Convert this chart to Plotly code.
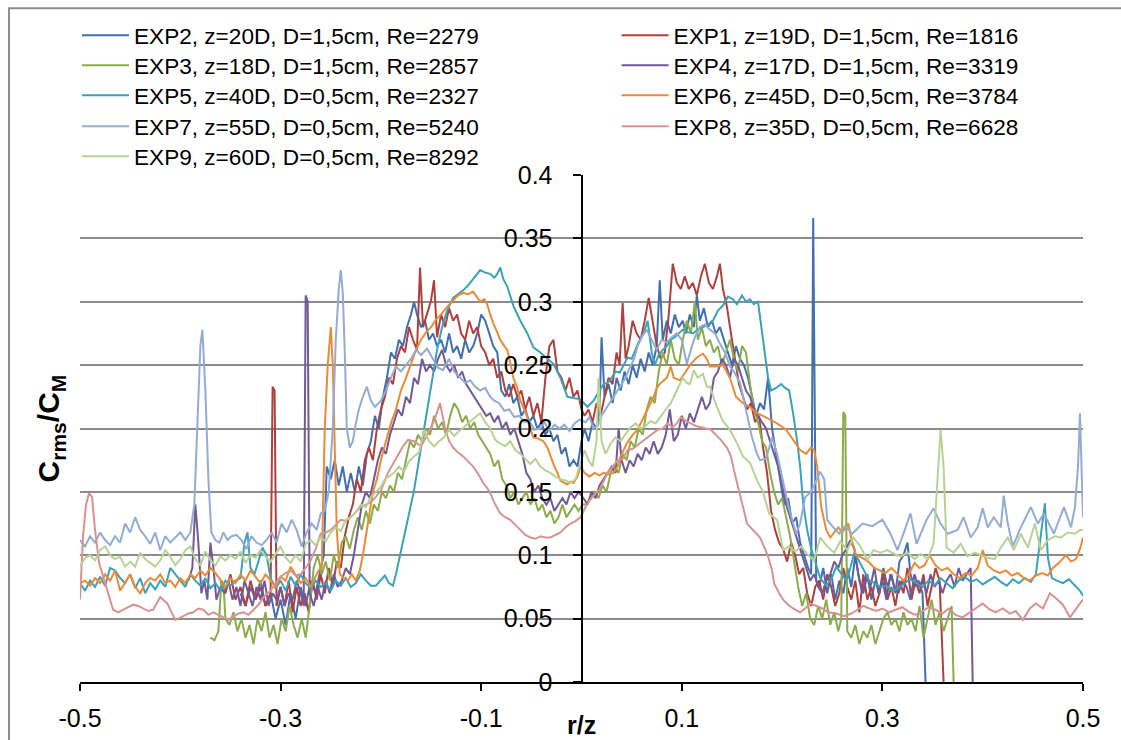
import plotly.graph_objects as go

# ---------------- data (r/z, Crms/CM) ----------------
exp2_r = [-0.340,-0.335,-0.330,-0.325,-0.320,-0.315,-0.310,-0.305,-0.300,-0.295,
          -0.290,-0.285,-0.280,-0.275,-0.270,-0.265,-0.260,-0.257,-0.254,-0.250,
          -0.246,-0.242,-0.238,-0.234,-0.230,-0.226,-0.222,-0.218,-0.214,-0.210,
          -0.206,-0.202,-0.198,-0.194,-0.190,-0.186,-0.182,-0.178,-0.174,-0.170,
          -0.167,-0.164,-0.160,-0.156,-0.152,-0.148,-0.144,-0.140,-0.136,-0.132,
          -0.128,-0.124,-0.120,-0.116,-0.112,-0.108,-0.104,-0.100,-0.096,-0.092,
          -0.088,-0.084,-0.080,-0.076,-0.072,-0.068,-0.064,-0.060,-0.056,-0.052,
          -0.048,-0.044,-0.040,-0.036,-0.032,-0.028,-0.024,-0.020,-0.016,-0.012,
          -0.008,-0.004,0.000,0.003,0.007,0.011,0.015,0.018,0.020,0.023,
          0.027,0.031,0.035,0.039,0.043,0.047,0.051,0.055,0.059,0.063,
          0.067,0.071,0.075,0.078,0.081,0.085,0.089,0.093,0.097,0.101,
          0.104,0.108,0.112,0.115,0.118,0.122,0.126,0.130,0.134,0.138,
          0.142,0.146,0.150,0.154,0.158,0.162,0.166,0.170,0.174,0.178,
          0.182,0.186,0.190,0.194,0.198,0.202,0.206,0.210,0.214,0.218,
          0.222,0.226,0.229,0.231,0.234,0.237,0.241,0.245,0.249,0.253,
          0.257,0.261,0.265,0.269,0.273,0.277,0.281,0.285,0.289,0.293,
          0.297,0.301,0.305,0.309,0.313,0.317,0.321,0.325,0.328,0.332,
          0.336,0.340,0.343]
exp2_c = [0.070,0.060,0.075,0.065,0.080,0.060,0.070,0.050,0.065,0.045,
          0.070,0.050,0.075,0.060,0.080,0.070,0.090,0.100,0.170,0.160,
          0.175,0.155,0.170,0.150,0.165,0.150,0.170,0.155,0.180,0.190,
          0.210,0.200,0.225,0.240,0.260,0.255,0.270,0.265,0.280,0.290,
          0.300,0.290,0.280,0.285,0.270,0.275,0.265,0.270,0.260,0.275,
          0.260,0.265,0.255,0.270,0.260,0.265,0.275,0.290,0.285,0.275,
          0.265,0.260,0.230,0.225,0.235,0.220,0.225,0.210,0.215,0.205,
          0.210,0.200,0.205,0.195,0.200,0.190,0.195,0.180,0.185,0.170,
          0.175,0.170,0.190,0.200,0.190,0.205,0.200,0.215,0.272,0.225,
          0.235,0.220,0.240,0.230,0.245,0.235,0.250,0.240,0.255,0.245,
          0.260,0.250,0.265,0.317,0.270,0.285,0.275,0.290,0.280,0.285,
          0.275,0.290,0.280,0.305,0.285,0.295,0.280,0.285,0.275,0.280,
          0.270,0.260,0.250,0.265,0.255,0.250,0.240,0.225,0.210,0.220,
          0.215,0.240,0.200,0.180,0.160,0.140,0.145,0.125,0.130,0.110,
          0.100,0.090,0.085,0.366,0.080,0.075,0.090,0.070,0.085,0.065,
          0.080,0.070,0.090,0.075,0.100,0.080,0.070,0.085,0.065,0.080,
          0.070,0.090,0.075,0.085,0.070,0.095,0.100,0.110,0.085,0.075,
          0.080,0.070,0.000]

exp1_r = [-0.360,-0.355,-0.350,-0.345,-0.340,-0.335,-0.330,-0.325,-0.320,-0.315,
          -0.310,-0.308,-0.306,-0.304,-0.300,-0.296,-0.292,-0.288,-0.284,-0.280,
          -0.276,-0.272,-0.268,-0.264,-0.260,-0.256,-0.252,-0.248,-0.244,-0.240,
          -0.236,-0.232,-0.228,-0.224,-0.220,-0.216,-0.212,-0.208,-0.204,-0.200,
          -0.196,-0.192,-0.188,-0.184,-0.180,-0.176,-0.172,-0.168,-0.164,-0.161,
          -0.158,-0.154,-0.150,-0.147,-0.144,-0.140,-0.136,-0.132,-0.128,-0.124,
          -0.120,-0.116,-0.112,-0.108,-0.104,-0.100,-0.096,-0.092,-0.088,-0.084,
          -0.080,-0.076,-0.072,-0.068,-0.064,-0.060,-0.056,-0.052,-0.048,-0.044,
          -0.040,-0.036,-0.032,-0.028,-0.024,-0.020,-0.016,-0.012,-0.008,-0.004,
          0.000,0.003,0.007,0.011,0.015,0.019,0.023,0.027,0.031,0.035,
          0.038,0.041,0.044,0.047,0.051,0.055,0.059,0.063,0.067,0.071,
          0.075,0.079,0.083,0.087,0.091,0.095,0.099,0.103,0.107,0.111,
          0.115,0.119,0.123,0.127,0.131,0.135,0.138,0.141,0.145,0.149,
          0.153,0.157,0.161,0.165,0.169,0.173,0.177,0.181,0.185,0.189,
          0.193,0.197,0.201,0.205,0.209,0.213,0.217,0.221,0.225,0.229,
          0.233,0.237,0.241,0.245,0.249,0.253,0.257,0.261,0.265,0.269,
          0.273,0.277,0.281,0.285,0.289,0.293,0.297,0.301,0.305,0.309,
          0.313,0.317,0.321,0.325,0.329,0.333,0.337,0.341,0.345,0.349,
          0.353,0.357,0.361]
exp1_c = [0.080,0.070,0.085,0.065,0.075,0.060,0.080,0.065,0.075,0.060,
          0.070,0.233,0.230,0.060,0.075,0.060,0.080,0.055,0.075,0.060,
          0.070,0.055,0.080,0.065,0.085,0.070,0.090,0.075,0.095,0.090,
          0.115,0.130,0.140,0.160,0.150,0.175,0.185,0.175,0.200,0.215,
          0.225,0.240,0.235,0.255,0.265,0.260,0.280,0.270,0.262,0.327,
          0.280,0.290,0.301,0.317,0.272,0.290,0.280,0.295,0.285,0.290,
          0.275,0.270,0.285,0.275,0.280,0.265,0.260,0.250,0.255,0.240,
          0.245,0.230,0.225,0.235,0.225,0.230,0.215,0.225,0.210,0.220,
          0.205,0.240,0.265,0.270,0.245,0.240,0.230,0.240,0.225,0.230,
          0.215,0.210,0.215,0.205,0.220,0.210,0.225,0.240,0.235,0.260,
          0.250,0.299,0.255,0.265,0.285,0.275,0.270,0.285,0.303,0.285,
          0.265,0.255,0.260,0.290,0.330,0.315,0.310,0.320,0.310,0.315,
          0.305,0.320,0.330,0.315,0.310,0.320,0.330,0.310,0.296,0.275,
          0.255,0.235,0.225,0.215,0.220,0.205,0.210,0.185,0.165,0.135,
          0.120,0.110,0.105,0.095,0.110,0.100,0.085,0.090,0.070,0.060,
          0.075,0.080,0.065,0.085,0.075,0.060,0.070,0.090,0.075,0.065,
          0.080,0.055,0.085,0.065,0.075,0.060,0.070,0.085,0.065,0.075,
          0.060,0.080,0.070,0.090,0.065,0.080,0.070,0.085,0.060,0.075,
          0.090,0.080,0.000]

exp3_r = [-0.370,-0.366,-0.362,-0.359,-0.357,-0.355,-0.351,-0.347,-0.343,-0.339,
          -0.335,-0.331,-0.327,-0.323,-0.319,-0.315,-0.311,-0.307,-0.303,-0.299,
          -0.295,-0.291,-0.287,-0.283,-0.279,-0.275,-0.271,-0.267,-0.263,-0.259,
          -0.255,-0.251,-0.247,-0.243,-0.239,-0.235,-0.231,-0.227,-0.223,-0.219,
          -0.215,-0.211,-0.207,-0.203,-0.199,-0.195,-0.191,-0.187,-0.183,-0.179,
          -0.175,-0.171,-0.167,-0.163,-0.159,-0.155,-0.151,-0.147,-0.143,-0.139,
          -0.135,-0.131,-0.127,-0.123,-0.119,-0.115,-0.111,-0.107,-0.103,-0.099,
          -0.095,-0.091,-0.087,-0.083,-0.079,-0.075,-0.071,-0.067,-0.063,-0.059,
          -0.055,-0.051,-0.047,-0.043,-0.039,-0.035,-0.031,-0.027,-0.023,-0.019,
          -0.015,-0.011,-0.007,-0.003,0.001,0.005,0.009,0.013,0.017,0.021,
          0.025,0.029,0.033,0.037,0.041,0.045,0.049,0.053,0.057,0.061,
          0.065,0.069,0.073,0.077,0.081,0.085,0.089,0.093,0.097,0.101,
          0.105,0.109,0.113,0.116,0.120,0.124,0.128,0.132,0.136,0.140,
          0.144,0.148,0.152,0.156,0.160,0.164,0.168,0.172,0.176,0.180,
          0.184,0.188,0.192,0.196,0.200,0.204,0.208,0.212,0.216,0.220,
          0.224,0.228,0.232,0.236,0.240,0.244,0.248,0.252,0.256,0.259,
          0.261,0.263,0.265,0.269,0.273,0.277,0.281,0.285,0.289,0.293,
          0.297,0.301,0.305,0.309,0.313,0.317,0.321,0.325,0.329,0.333,
          0.337,0.341,0.345,0.349,0.353,0.357,0.361,0.365,0.369,0.371]
exp3_c = [0.035,0.033,0.040,0.080,0.078,0.050,0.045,0.055,0.040,0.050,
          0.035,0.045,0.030,0.050,0.040,0.055,0.035,0.045,0.030,0.050,
          0.040,0.060,0.045,0.035,0.050,0.035,0.060,0.090,0.100,0.085,
          0.095,0.080,0.100,0.090,0.110,0.115,0.105,0.120,0.130,0.120,
          0.135,0.125,0.140,0.135,0.150,0.145,0.155,0.150,0.165,0.160,
          0.175,0.190,0.185,0.195,0.190,0.200,0.195,0.210,0.200,0.205,
          0.195,0.210,0.220,0.215,0.205,0.210,0.200,0.205,0.195,0.190,
          0.185,0.180,0.170,0.175,0.160,0.155,0.145,0.150,0.140,0.145,
          0.150,0.140,0.145,0.135,0.140,0.130,0.135,0.125,0.130,0.140,
          0.130,0.135,0.140,0.135,0.140,0.140,0.145,0.150,0.145,0.155,
          0.150,0.165,0.170,0.165,0.180,0.175,0.190,0.185,0.200,0.195,
          0.215,0.225,0.220,0.245,0.260,0.250,0.270,0.255,0.250,0.270,
          0.285,0.275,0.300,0.270,0.280,0.265,0.270,0.260,0.265,0.250,
          0.260,0.270,0.255,0.245,0.265,0.260,0.235,0.215,0.205,0.190,
          0.185,0.165,0.150,0.140,0.145,0.130,0.115,0.095,0.075,0.060,
          0.070,0.050,0.045,0.060,0.050,0.065,0.045,0.055,0.040,0.050,
          0.213,0.210,0.040,0.035,0.045,0.030,0.040,0.035,0.045,0.030,
          0.040,0.050,0.055,0.045,0.050,0.040,0.055,0.045,0.050,0.040,
          0.060,0.035,0.050,0.065,0.045,0.055,0.040,0.050,0.060,0.000]

exp4_r = [-0.392,-0.388,-0.385,-0.382,-0.379,-0.376,-0.373,-0.370,-0.367,-0.364,
          -0.360,-0.356,-0.352,-0.348,-0.344,-0.340,-0.336,-0.332,-0.328,-0.324,
          -0.320,-0.316,-0.312,-0.308,-0.304,-0.300,-0.296,-0.292,-0.288,-0.284,
          -0.280,-0.277,-0.275,-0.273,-0.271,-0.267,-0.263,-0.259,-0.255,-0.251,
          -0.247,-0.243,-0.239,-0.235,-0.231,-0.227,-0.223,-0.219,-0.215,-0.211,
          -0.207,-0.203,-0.199,-0.195,-0.191,-0.187,-0.183,-0.179,-0.175,-0.171,
          -0.167,-0.163,-0.159,-0.155,-0.151,-0.147,-0.143,-0.139,-0.135,-0.131,
          -0.127,-0.123,-0.119,-0.115,-0.111,-0.107,-0.103,-0.099,-0.095,-0.091,
          -0.087,-0.083,-0.079,-0.075,-0.071,-0.067,-0.063,-0.059,-0.055,-0.051,
          -0.047,-0.043,-0.039,-0.035,-0.031,-0.027,-0.023,-0.019,-0.015,-0.011,
          -0.007,-0.003,0.002,0.006,0.010,0.014,0.018,0.022,0.026,0.030,
          0.034,0.037,0.040,0.044,0.048,0.052,0.056,0.060,0.064,0.068,
          0.072,0.076,0.080,0.084,0.088,0.092,0.096,0.100,0.104,0.108,
          0.112,0.116,0.120,0.124,0.128,0.132,0.136,0.140,0.144,0.148,
          0.152,0.156,0.160,0.164,0.168,0.172,0.176,0.180,0.184,0.188,
          0.192,0.196,0.200,0.204,0.208,0.212,0.216,0.220,0.224,0.228,
          0.232,0.236,0.240,0.244,0.248,0.252,0.256,0.260,0.264,0.268,
          0.272,0.276,0.280,0.284,0.288,0.292,0.296,0.300,0.304,0.308,
          0.312,0.316,0.320,0.324,0.328,0.332,0.336,0.340,0.344,0.348,
          0.352,0.356,0.360,0.364,0.368,0.372,0.376,0.380,0.384,0.388,
          0.390]
exp4_c = [0.080,0.090,0.140,0.110,0.070,0.080,0.065,0.110,0.090,0.065,
          0.075,0.070,0.080,0.065,0.075,0.060,0.080,0.070,0.060,0.075,
          0.065,0.080,0.060,0.070,0.065,0.075,0.060,0.070,0.065,0.080,
          0.070,0.060,0.305,0.300,0.070,0.060,0.075,0.065,0.080,0.070,
          0.085,0.075,0.080,0.090,0.085,0.100,0.120,0.140,0.150,0.145,
          0.160,0.175,0.185,0.180,0.195,0.205,0.215,0.210,0.225,0.220,
          0.240,0.235,0.255,0.245,0.250,0.245,0.255,0.262,0.250,0.245,
          0.250,0.240,0.245,0.235,0.230,0.225,0.220,0.215,0.210,0.212,
          0.205,0.210,0.200,0.205,0.195,0.200,0.190,0.180,0.165,0.160,
          0.150,0.155,0.145,0.140,0.145,0.135,0.140,0.145,0.140,0.150,
          0.145,0.150,0.145,0.140,0.150,0.145,0.155,0.160,0.165,0.170,
          0.165,0.200,0.175,0.165,0.175,0.170,0.180,0.175,0.185,0.180,
          0.190,0.180,0.185,0.195,0.215,0.190,0.195,0.210,0.200,0.212,
          0.205,0.215,0.225,0.215,0.220,0.240,0.245,0.255,0.250,0.240,
          0.255,0.250,0.240,0.230,0.225,0.215,0.210,0.205,0.200,0.190,
          0.180,0.170,0.155,0.140,0.130,0.120,0.110,0.100,0.090,0.080,
          0.085,0.075,0.070,0.080,0.085,0.095,0.090,0.100,0.105,0.112,
          0.105,0.085,0.070,0.085,0.075,0.090,0.070,0.080,0.065,0.085,
          0.075,0.070,0.080,0.075,0.065,0.085,0.075,0.080,0.070,0.085,
          0.075,0.080,0.070,0.080,0.085,0.075,0.090,0.080,0.085,0.090,
          0.000]

exp5_r = [-0.500,-0.495,-0.490,-0.485,-0.480,-0.475,-0.470,-0.465,-0.460,-0.455,
          -0.450,-0.445,-0.440,-0.435,-0.430,-0.425,-0.420,-0.415,-0.410,-0.405,
          -0.400,-0.395,-0.390,-0.385,-0.380,-0.375,-0.370,-0.365,-0.360,-0.355,
          -0.350,-0.345,-0.340,-0.336,-0.333,-0.330,-0.326,-0.322,-0.318,-0.314,
          -0.310,-0.305,-0.300,-0.295,-0.290,-0.285,-0.280,-0.275,-0.270,-0.265,
          -0.260,-0.255,-0.250,-0.245,-0.240,-0.235,-0.230,-0.225,-0.220,-0.215,
          -0.210,-0.205,-0.200,-0.196,-0.192,-0.188,-0.185,-0.180,-0.174,-0.167,
          -0.160,-0.154,-0.149,-0.144,-0.139,-0.134,-0.128,-0.123,-0.118,-0.113,
          -0.108,-0.104,-0.101,-0.096,-0.091,-0.087,-0.084,-0.081,-0.078,-0.074,
          -0.068,-0.061,-0.054,-0.048,-0.041,-0.034,-0.028,-0.021,-0.014,-0.008,
          -0.001,0.006,0.012,0.018,0.022,0.026,0.030,0.034,0.038,0.042,
          0.046,0.050,0.054,0.058,0.062,0.066,0.070,0.073,0.077,0.081,
          0.085,0.089,0.093,0.097,0.101,0.106,0.111,0.116,0.121,0.126,
          0.131,0.136,0.141,0.146,0.151,0.155,0.160,0.164,0.168,0.172,
          0.176,0.179,0.183,0.186,0.189,0.194,0.199,0.203,0.207,0.211,
          0.215,0.218,0.221,0.225,0.229,0.233,0.238,0.244,0.249,0.254,
          0.259,0.264,0.268,0.272,0.277,0.282,0.287,0.292,0.298,0.304,
          0.310,0.316,0.322,0.328,0.334,0.340,0.346,0.352,0.358,0.364,
          0.370,0.376,0.382,0.388,0.394,0.400,0.406,0.412,0.418,0.424,
          0.430,0.436,0.442,0.448,0.453,0.458,0.462,0.465,0.469,0.474,
          0.480,0.486,0.492,0.497,0.500]
exp5_c = [0.078,0.072,0.080,0.075,0.083,0.076,0.090,0.088,0.082,0.078,
          0.085,0.074,0.082,0.070,0.078,0.073,0.080,0.075,0.090,0.085,
          0.080,0.075,0.085,0.080,0.076,0.082,0.074,0.078,0.072,0.080,
          0.076,0.080,0.082,0.110,0.118,0.090,0.085,0.095,0.106,0.100,
          0.082,0.074,0.080,0.072,0.083,0.076,0.085,0.078,0.074,0.080,
          0.075,0.078,0.072,0.080,0.076,0.082,0.075,0.078,0.085,0.080,
          0.076,0.076,0.080,0.084,0.078,0.076,0.085,0.104,0.125,0.151,
          0.185,0.215,0.240,0.262,0.280,0.293,0.303,0.306,0.309,0.313,
          0.318,0.322,0.325,0.323,0.322,0.319,0.322,0.327,0.318,0.312,
          0.297,0.285,0.275,0.264,0.260,0.255,0.251,0.240,0.225,0.224,
          0.223,0.217,0.222,0.230,0.235,0.236,0.240,0.245,0.244,0.250,
          0.256,0.255,0.262,0.270,0.275,0.285,0.260,0.250,0.258,0.262,
          0.265,0.270,0.272,0.275,0.278,0.276,0.275,0.278,0.280,0.282,
          0.285,0.293,0.297,0.304,0.302,0.298,0.305,0.300,0.302,0.298,
          0.300,0.283,0.260,0.240,0.230,0.232,0.235,0.232,0.230,0.212,
          0.190,0.170,0.141,0.120,0.105,0.095,0.082,0.076,0.081,0.091,
          0.085,0.080,0.090,0.102,0.095,0.088,0.080,0.078,0.075,0.076,
          0.072,0.074,0.078,0.081,0.078,0.075,0.080,0.076,0.082,0.078,
          0.074,0.080,0.083,0.079,0.081,0.077,0.080,0.083,0.079,0.076,
          0.081,0.078,0.082,0.079,0.085,0.118,0.141,0.098,0.082,0.080,
          0.078,0.081,0.076,0.072,0.068]

exp6_r = [-0.500,-0.495,-0.490,-0.485,-0.480,-0.475,-0.470,-0.465,-0.460,-0.455,
          -0.450,-0.445,-0.440,-0.435,-0.430,-0.425,-0.420,-0.415,-0.410,-0.405,
          -0.400,-0.395,-0.390,-0.385,-0.380,-0.375,-0.370,-0.365,-0.360,-0.355,
          -0.350,-0.345,-0.340,-0.335,-0.330,-0.325,-0.320,-0.315,-0.310,-0.305,
          -0.300,-0.295,-0.290,-0.285,-0.280,-0.275,-0.270,-0.266,-0.262,-0.259,
          -0.256,-0.253,-0.250,-0.248,-0.246,-0.244,-0.241,-0.237,-0.233,-0.229,
          -0.225,-0.221,-0.218,-0.215,-0.212,-0.208,-0.204,-0.200,-0.195,-0.190,
          -0.185,-0.180,-0.175,-0.170,-0.165,-0.160,-0.155,-0.150,-0.145,-0.140,
          -0.134,-0.128,-0.123,-0.118,-0.113,-0.108,-0.104,-0.101,-0.097,-0.094,
          -0.091,-0.088,-0.084,-0.081,-0.077,-0.074,-0.071,-0.068,-0.064,-0.061,
          -0.057,-0.054,-0.051,-0.048,-0.043,-0.038,-0.034,-0.031,-0.027,-0.024,
          -0.021,-0.017,-0.014,-0.011,-0.008,-0.004,-0.001,
          0.003,0.008,0.013,0.018,0.022,0.027,0.032,0.036,0.039,0.045,
          0.051,0.056,0.062,0.066,0.072,0.075,0.079,0.085,0.089,0.092,
          0.098,0.104,0.109,0.115,0.121,0.125,0.128,0.135,0.141,0.148,
          0.154,0.161,0.168,0.175,0.181,0.188,0.195,0.204,0.211,0.218,
          0.224,0.229,0.232,0.235,0.239,0.244,0.248,0.252,0.256,0.260,
          0.266,0.270,0.274,0.280,0.286,0.292,0.298,0.303,0.309,0.315,
          0.321,0.327,0.332,0.337,0.342,0.347,0.353,0.359,0.365,0.371,
          0.377,0.383,0.389,0.395,0.400,0.405,0.411,0.417,0.423,0.429,
          0.435,0.441,0.447,0.453,0.459,0.465,0.470,0.476,0.483,0.488,
          0.493,0.497,0.500]
exp6_c = [0.078,0.080,0.076,0.082,0.078,0.085,0.080,0.088,0.072,0.078,
          0.085,0.075,0.070,0.078,0.082,0.080,0.085,0.078,0.080,0.075,
          0.082,0.078,0.085,0.082,0.088,0.084,0.090,0.086,0.080,0.075,
          0.082,0.078,0.085,0.080,0.088,0.083,0.078,0.085,0.080,0.075,
          0.083,0.080,0.091,0.085,0.078,0.082,0.075,0.082,0.088,0.090,
          0.200,0.250,0.280,0.250,0.180,0.120,0.085,0.082,0.080,0.085,
          0.080,0.088,0.100,0.115,0.130,0.150,0.160,0.175,0.190,0.204,
          0.215,0.230,0.240,0.251,0.262,0.270,0.276,0.280,0.286,0.290,
          0.296,0.301,0.305,0.307,0.306,0.308,0.303,0.300,0.302,0.298,
          0.290,0.283,0.276,0.270,0.265,0.262,0.252,0.240,0.232,0.222,
          0.215,0.209,0.200,0.193,0.192,0.190,0.185,0.178,0.170,0.165,
          0.159,0.157,0.156,0.158,0.157,0.162,0.170,
          0.165,0.162,0.165,0.163,0.165,0.164,0.165,0.170,0.178,0.188,
          0.195,0.199,0.209,0.215,0.225,0.232,0.236,0.240,0.249,0.240,
          0.238,0.245,0.251,0.256,0.259,0.255,0.249,0.249,0.250,0.240,
          0.225,0.220,0.217,0.212,0.210,0.207,0.204,0.199,0.191,0.183,
          0.180,0.185,0.183,0.170,0.138,0.120,0.114,0.118,0.122,0.118,
          0.125,0.110,0.100,0.098,0.095,0.090,0.088,0.086,0.090,0.085,
          0.080,0.086,0.094,0.090,0.092,0.100,0.092,0.088,0.090,0.085,
          0.082,0.086,0.084,0.090,0.104,0.092,0.088,0.086,0.088,0.084,
          0.086,0.082,0.080,0.084,0.086,0.084,0.090,0.094,0.100,0.095,
          0.097,0.105,0.114]

exp7_r = [-0.500,-0.495,-0.490,-0.485,-0.480,-0.475,-0.470,-0.465,-0.460,-0.455,
          -0.450,-0.445,-0.440,-0.435,-0.430,-0.425,-0.420,-0.415,-0.410,-0.405,
          -0.400,-0.395,-0.390,-0.386,-0.383,-0.380,-0.378,-0.375,-0.372,-0.369,
          -0.365,-0.361,-0.357,-0.353,-0.349,-0.344,-0.339,-0.334,-0.329,-0.324,
          -0.319,-0.314,-0.309,-0.304,-0.299,-0.294,-0.289,-0.284,-0.279,-0.274,
          -0.269,-0.264,-0.260,-0.256,-0.252,-0.248,-0.245,-0.242,-0.240,-0.238,
          -0.236,-0.234,-0.231,-0.228,-0.225,-0.222,-0.218,-0.214,-0.210,-0.206,
          -0.200,-0.195,-0.190,-0.185,-0.180,-0.175,-0.170,-0.165,-0.160,-0.154,
          -0.148,-0.143,-0.138,-0.132,-0.127,-0.121,-0.116,-0.111,-0.106,-0.101,
          -0.096,-0.091,-0.087,-0.082,-0.077,-0.072,-0.067,-0.062,-0.057,-0.052,
          -0.047,-0.042,-0.037,-0.032,-0.027,-0.022,-0.017,-0.012,-0.007,-0.002,
          0.004,0.008,0.012,0.016,0.020,0.024,0.028,0.032,0.036,0.040,
          0.044,0.048,0.052,0.056,0.060,0.065,0.070,0.075,0.080,0.085,
          0.090,0.095,0.100,0.105,0.109,0.113,0.118,0.123,0.128,0.133,
          0.138,0.143,0.148,0.152,0.158,0.164,0.170,0.175,0.178,0.184,
          0.190,0.195,0.200,0.207,0.214,0.218,0.223,0.229,0.238,0.242,
          0.245,0.250,0.257,0.263,0.270,0.280,0.290,0.300,0.308,0.315,
          0.321,0.328,0.334,0.344,0.351,0.358,0.365,0.375,0.381,0.388,
          0.395,0.400,0.405,0.411,0.418,0.421,0.425,0.430,0.438,0.448,
          0.455,0.461,0.471,0.481,0.488,0.492,0.495,0.497,0.500]
exp7_c = [0.112,0.107,0.115,0.110,0.118,0.112,0.108,0.115,0.110,0.125,
          0.118,0.130,0.120,0.115,0.109,0.118,0.104,0.115,0.110,0.114,
          0.118,0.112,0.118,0.140,0.200,0.265,0.278,0.230,0.160,0.118,
          0.112,0.110,0.118,0.112,0.115,0.116,0.112,0.105,0.115,0.110,
          0.108,0.112,0.118,0.110,0.125,0.118,0.128,0.120,0.107,0.118,
          0.125,0.120,0.133,0.135,0.150,0.200,0.270,0.310,0.325,0.307,
          0.260,0.200,0.185,0.190,0.204,0.215,0.225,0.233,0.222,0.217,
          0.222,0.230,0.240,0.249,0.245,0.250,0.255,0.262,0.258,0.263,
          0.255,0.248,0.246,0.255,0.245,0.240,0.236,0.238,0.233,0.230,
          0.232,0.225,0.222,0.220,0.214,0.215,0.209,0.210,0.205,0.206,
          0.199,0.200,0.205,0.198,0.203,0.200,0.203,0.198,0.204,0.207,
          0.205,0.209,0.200,0.202,0.210,0.215,0.220,0.226,0.230,0.235,
          0.240,0.248,0.254,0.265,0.272,0.278,0.270,0.262,0.270,0.268,
          0.272,0.275,0.270,0.251,0.262,0.272,0.280,0.282,0.278,0.275,
          0.267,0.260,0.249,0.245,0.236,0.215,0.193,0.180,0.175,0.176,
          0.193,0.180,0.162,0.136,0.117,0.125,0.146,0.150,0.166,0.160,
          0.128,0.123,0.117,0.123,0.117,0.125,0.123,0.128,0.117,0.104,
          0.117,0.133,0.109,0.128,0.137,0.125,0.117,0.120,0.130,0.114,
          0.122,0.137,0.122,0.130,0.122,0.147,0.125,0.107,0.122,0.138,
          0.125,0.133,0.117,0.138,0.122,0.138,0.170,0.212,0.130]

exp8_r = [-0.500,-0.497,-0.494,-0.491,-0.488,-0.485,-0.481,-0.474,-0.467,-0.462,
          -0.457,-0.452,-0.447,-0.442,-0.437,-0.432,-0.427,-0.420,-0.413,-0.405,
          -0.397,-0.392,-0.387,-0.382,-0.377,-0.372,-0.367,-0.362,-0.357,-0.352,
          -0.347,-0.342,-0.337,-0.332,-0.327,-0.322,-0.317,-0.310,-0.305,-0.300,
          -0.295,-0.290,-0.285,-0.280,-0.275,-0.270,-0.265,-0.260,-0.255,-0.250,
          -0.245,-0.240,-0.235,-0.230,-0.225,-0.220,-0.215,-0.210,-0.205,-0.200,
          -0.193,-0.188,-0.183,-0.178,-0.173,-0.167,-0.160,-0.155,-0.151,-0.146,
          -0.141,-0.136,-0.132,-0.128,-0.123,-0.118,-0.113,-0.108,-0.103,-0.098,
          -0.094,-0.091,-0.086,-0.081,-0.076,-0.071,-0.066,-0.061,-0.056,-0.051,
          -0.046,-0.041,-0.036,-0.031,-0.026,-0.021,-0.016,-0.011,-0.006,-0.001,
          0.004,0.008,0.013,0.018,0.023,0.026,0.031,0.036,0.041,0.046,
          0.051,0.056,0.061,0.066,0.071,0.076,0.081,0.086,0.091,0.095,
          0.099,0.104,0.109,0.114,0.119,0.124,0.129,0.134,0.139,0.145,
          0.149,0.152,0.156,0.159,0.162,0.165,0.171,0.178,0.183,0.186,
          0.190,0.192,0.197,0.201,0.206,0.211,0.218,0.223,0.228,0.234,
          0.240,0.246,0.254,0.262,0.269,0.275,0.281,0.287,0.294,0.300,
          0.307,0.313,0.320,0.327,0.333,0.340,0.346,0.353,0.360,0.366,
          0.373,0.380,0.387,0.393,0.400,0.407,0.413,0.420,0.427,0.433,
          0.440,0.447,0.453,0.460,0.467,0.473,0.480,0.487,0.493,0.497,
          0.500]
exp8_c = [0.065,0.115,0.140,0.149,0.146,0.120,0.094,0.075,0.057,0.055,
          0.057,0.059,0.061,0.060,0.058,0.056,0.057,0.067,0.062,0.049,
          0.052,0.054,0.055,0.058,0.057,0.053,0.055,0.053,0.051,0.049,
          0.052,0.054,0.055,0.053,0.057,0.061,0.067,0.072,0.078,0.083,
          0.086,0.088,0.084,0.085,0.090,0.096,0.105,0.117,0.118,0.120,
          0.124,0.128,0.127,0.130,0.134,0.138,0.140,0.142,0.146,0.151,
          0.165,0.172,0.180,0.186,0.191,0.190,0.186,0.193,0.199,0.208,
          0.220,0.200,0.190,0.185,0.181,0.178,0.174,0.170,0.164,0.157,
          0.153,0.149,0.140,0.133,0.130,0.128,0.124,0.120,0.116,0.114,
          0.113,0.115,0.114,0.114,0.116,0.118,0.122,0.125,0.127,0.130,
          0.138,0.143,0.148,0.152,0.160,0.165,0.170,0.175,0.176,0.183,
          0.184,0.187,0.190,0.193,0.196,0.199,0.200,0.204,0.201,0.204,
          0.209,0.206,0.204,0.202,0.201,0.200,0.199,0.195,0.191,0.185,
          0.178,0.167,0.155,0.146,0.135,0.125,0.120,0.114,0.105,0.099,
          0.088,0.078,0.070,0.065,0.061,0.058,0.055,0.058,0.062,0.060,
          0.058,0.055,0.054,0.052,0.054,0.057,0.060,0.058,0.056,0.058,
          0.055,0.057,0.059,0.055,0.053,0.056,0.059,0.057,0.054,0.058,
          0.053,0.051,0.055,0.058,0.062,0.057,0.055,0.058,0.054,0.056,
          0.049,0.058,0.062,0.058,0.070,0.066,0.061,0.051,0.058,0.062,
          0.065]

exp9_r = [-0.500,-0.495,-0.490,-0.485,-0.480,-0.475,-0.470,-0.465,-0.460,-0.455,
          -0.450,-0.445,-0.440,-0.435,-0.430,-0.425,-0.420,-0.415,-0.410,-0.405,
          -0.400,-0.395,-0.390,-0.385,-0.380,-0.375,-0.370,-0.365,-0.360,-0.355,
          -0.350,-0.345,-0.340,-0.335,-0.330,-0.325,-0.320,-0.315,-0.310,-0.305,
          -0.300,-0.295,-0.290,-0.285,-0.280,-0.275,-0.270,-0.265,-0.260,-0.255,
          -0.250,-0.245,-0.240,-0.235,-0.230,-0.225,-0.220,-0.215,-0.210,-0.205,
          -0.200,-0.196,-0.192,-0.187,-0.182,-0.177,-0.172,-0.167,-0.162,-0.157,
          -0.152,-0.147,-0.142,-0.137,-0.132,-0.127,-0.122,-0.117,-0.112,-0.107,
          -0.101,-0.096,-0.091,-0.086,-0.081,-0.076,-0.071,-0.066,-0.061,-0.056,
          -0.051,-0.046,-0.041,-0.036,-0.031,-0.026,-0.021,-0.016,-0.011,-0.006,
          -0.002,
          0.003,0.007,0.011,0.015,0.017,0.020,0.024,0.029,0.034,0.039,
          0.044,0.049,0.054,0.059,0.064,0.069,0.074,0.079,0.084,0.089,
          0.095,0.101,0.105,0.108,0.112,0.116,0.121,0.125,0.128,0.135,
          0.141,0.148,0.154,0.161,0.168,0.175,0.181,0.187,0.195,0.201,
          0.207,0.213,0.219,0.225,0.232,0.238,0.245,0.252,0.258,0.265,
          0.271,0.278,0.285,0.291,0.298,0.305,0.312,0.318,0.325,0.332,
          0.338,0.345,0.351,0.355,0.358,0.361,0.364,0.371,0.378,0.385,
          0.392,0.398,0.405,0.412,0.418,0.425,0.431,0.438,0.445,0.452,
          0.458,0.465,0.472,0.478,0.485,0.492,0.497,0.500]
exp9_c = [0.091,0.098,0.100,0.096,0.104,0.107,0.100,0.097,0.099,0.091,
          0.095,0.091,0.102,0.097,0.094,0.091,0.096,0.104,0.099,0.092,
          0.097,0.104,0.107,0.097,0.092,0.103,0.096,0.092,0.099,0.096,
          0.100,0.097,0.103,0.094,0.100,0.098,0.104,0.099,0.095,0.101,
          0.107,0.098,0.094,0.100,0.095,0.109,0.112,0.108,0.114,0.111,
          0.118,0.122,0.119,0.128,0.130,0.134,0.140,0.138,0.146,0.150,
          0.154,0.160,0.162,0.165,0.170,0.166,0.174,0.178,0.181,0.199,
          0.190,0.186,0.190,0.193,0.199,0.194,0.198,0.201,0.205,0.208,
          0.212,0.205,0.200,0.191,0.188,0.186,0.190,0.183,0.180,0.176,
          0.172,0.176,0.170,0.167,0.165,0.162,0.160,0.159,0.157,0.160,
          0.170,
          0.183,0.175,0.170,0.190,0.240,0.190,0.180,0.188,0.193,0.190,
          0.196,0.201,0.204,0.200,0.202,0.206,0.204,0.210,0.215,0.220,
          0.230,0.240,0.236,0.235,0.246,0.240,0.243,0.233,0.233,0.217,
          0.206,0.199,0.190,0.178,0.173,0.159,0.150,0.133,0.128,0.104,
          0.107,0.103,0.107,0.101,0.096,0.114,0.107,0.102,0.111,0.104,
          0.114,0.107,0.096,0.104,0.102,0.104,0.101,0.099,0.102,0.097,
          0.101,0.097,0.109,0.160,0.199,0.170,0.106,0.102,0.109,0.099,
          0.102,0.100,0.098,0.097,0.106,0.114,0.104,0.117,0.106,0.125,
          0.104,0.112,0.115,0.114,0.118,0.117,0.120,0.120]

series_names = [
    "EXP2, z=20D, D=1,5cm, Re=2279",
    "EXP1, z=19D, D=1,5cm, Re=1816",
    "EXP3, z=18D, D=1,5cm, Re=2857",
    "EXP4, z=17D, D=1,5cm, Re=3319",
    "EXP5, z=40D, D=0,5cm, Re=2327",
    "EXP6, z=45D, D=0,5cm, Re=3784",
    "EXP7, z=55D, D=0,5cm, Re=5240",
    "EXP8, z=35D, D=0,5cm, Re=6628",
    "EXP9, z=60D, D=0,5cm, Re=8292",
]
x_tick_vals = [-0.5, -0.3, -0.1, 0.1, 0.3, 0.5]
x_tick_text = ["-0.5", "-0.3", "-0.1", "0.1", "0.3", "0.5"]
y_tick_vals = [0, 0.05, 0.1, 0.15, 0.2, 0.25, 0.3, 0.35, 0.4]
y_tick_text = ["0", "0.05", "0.1", "0.15", "0.2", "0.25", "0.3", "0.35", "0.4"]

# ---------------- styling ----------------
series_data = [(exp2_r, exp2_c), (exp1_r, exp1_c), (exp3_r, exp3_c),
               (exp4_r, exp4_c), (exp5_r, exp5_c), (exp6_r, exp6_c),
               (exp7_r, exp7_c), (exp8_r, exp8_c), (exp9_r, exp9_c)]
colors = ["#4170B0", "#B0403D", "#8AAC4A", "#71599A", "#3AA2BA",
          "#EC8A35", "#92ACD6", "#D9928F", "#B8D294"]

FONT = "Liberation Sans, Arial, sans-serif"

# legend grid: two columns, five rows (row-major like the original)
col_x = [-0.003, 0.535]
row_y = [1.3175, 1.2584, 1.1992, 1.1380, 1.0789]

fig = go.Figure()
legend_layouts = {}
for i, ((xr, yc), name, col) in enumerate(zip(series_data, series_names, colors)):
    n = min(len(xr), len(yc))
    key = "legend" if i == 0 else f"legend{i + 1}"
    fig.add_trace(go.Scatter(x=list(xr[:n]), y=list(yc[:n]), mode="lines", name=name,
                             line=dict(color=col, width=2), legend=key, showlegend=True))
    legend_layouts[key] = dict(x=col_x[i % 2], y=row_y[i // 2], yanchor="top", xanchor="left",
                               bgcolor="rgba(0,0,0,0)", borderwidth=0, itemwidth=47,
                               font=dict(family=FONT, size=22.6, color="black"))

fig.update_layout(
    width=1121, height=740,
    showlegend=True,
    margin=dict(l=80, r=38, t=175, b=58, autoexpand=False),
    paper_bgcolor="white", plot_bgcolor="white",
    font=dict(family=FONT, color="black"),
    xaxis=dict(range=[-0.5, 0.5], tickmode="array", tickvals=x_tick_vals, ticktext=x_tick_text,
               ticks="outside", ticklen=7, tickwidth=2, tickcolor="black",
               showline=True, linecolor="black", linewidth=2,
               showgrid=False, zeroline=False, automargin=False,
               tickfont=dict(family=FONT, size=25, color="black"), ticklabelstandoff=6),
    yaxis=dict(range=[0, 0.4], tickmode="array", tickvals=y_tick_vals, ticktext=y_tick_text,
               anchor="free", position=0.5, automargin=False,
               ticks="outside", ticklen=8, tickwidth=2, tickcolor="black",
               showline=True, linecolor="black", linewidth=2,
               showgrid=True, gridcolor="#8c8c8c", gridwidth=2, zeroline=False,
               tickfont=dict(family=FONT, size=25, color="black"), ticklabelstandoff=15),
    annotations=[
        dict(text="<b>C<sub>rms</sub>/C<sub>M</sub></b>", xref="paper", yref="paper",
             x=-0.029, y=0.5, xanchor="center", yanchor="middle", textangle=-90,
             showarrow=False, font=dict(family=FONT, size=30, color="black")),
        dict(text="<b>r/z</b>", xref="paper", yref="paper", x=0.5, y=-0.0848,
             xanchor="center", yanchor="middle", showarrow=False,
             font=dict(family=FONT, size=25, color="black")),
    ],
    shapes=[dict(type="rect", xref="paper", yref="paper", x0=-0.0708, x1=1.3,
                 y0=-0.5, y1=1.329, line=dict(color="#8c8c8c", width=2),
                 fillcolor="rgba(0,0,0,0)", layer="below")],
)
fig.update_layout(**legend_layouts)

fig.write_html("out.html")
